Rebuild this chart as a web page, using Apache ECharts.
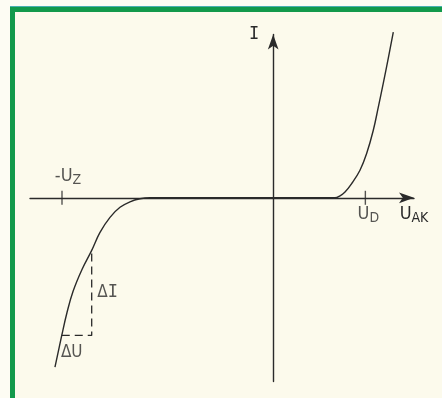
<!DOCTYPE html>
<html>
<head>
<meta charset="utf-8">
<script src="https://cdn.jsdelivr.net/npm/echarts@6/dist/echarts.min.js"></script>
<style>
  html, body { margin: 0; padding: 0; }
  body { width: 442px; height: 398px; background: #fdfcf3; position: relative; overflow: hidden; }
  #frame {
    position: absolute; left: 10px; top: 7px; width: 440px; height: 387px;
    background: #fcfaec;
    border-left: 5px solid #12994b;
    border-top: 5px solid #12994b;
    border-bottom: 3px solid #45a89a;
    box-shadow: 0 -1px 0 #4ab0b0;
  }
  #chart { position: absolute; left: 0; top: 0; width: 442px; height: 398px; }
</style>
</head>
<body>
<div id="frame"></div>
<div id="chart"></div>
<script>
// Diode characteristic I(U_AK): forward knee at U_D, breakdown at -U_Z
const forwardU = [0.4828, 0.5219, 0.561, 0.613, 0.678, 0.730, 0.782, 0.8211, 0.8602, 0.8992, 0.9383];
const forwardI = [0, 0.196, 0.57, 1.39, 2.70, 4.34, 6.62, 8.88, 11.24, 13.69, 16.24];

const reverseU = [-1.705, -1.652, -1.6109, -1.5641, -1.4938, -1.418, -1.3531, -1.275, -1.1969, -1.1188, -1.0406, -0.9625];
const reverseI = [-16.6, -13.49, -11.24, -9.18, -7.02, -5.15, -3.386, -1.914, -0.933, -0.392, -0.098, 0];

// Marked voltages on the U axis
const tickNames = ['-U_Z', 'U_D'];
const tickU = [-1.65, 0.72];

// Slope triangle on the breakdown branch
const deltaU = [-1.652, -1.418];
const deltaI = [-13.49, -5.15];

const ink = '#2a2a2a';
const font = '"DejaVu Sans Condensed", "Liberation Sans Narrow", "DejaVu Sans", sans-serif';
const mono = '"DejaVu Sans Mono", monospace';

const curve = [];
reverseU.forEach((u, i) => curve.push([u, reverseI[i]]));
forwardU.forEach((u, i) => curve.push([u, forwardI[i]]));

const triangle = [
  [deltaU[0], deltaI[0]],
  [deltaU[1], deltaI[0]],
  [deltaU[1], deltaI[1]]
];

const rich = {
  m: { fontSize: 18, fontFamily: font, color: ink, verticalAlign: 'top', lineHeight: 20 },
  s: { fontSize: 14, fontFamily: font, color: ink, verticalAlign: 'bottom', lineHeight: 20 },
  d: { fontSize: 17, fontFamily: font, color: ink },
  i: { fontSize: 17, fontFamily: mono, color: ink }
};

function sub(name) {
  const parts = name.split('_');
  return '{m|' + parts[0] + '}{s|' + parts[1] + '}';
}

const chart = echarts.init(document.getElementById('chart'), null, { renderer: 'canvas' });
chart.setOption({
  backgroundColor: 'transparent',
  animation: false,
  grid: { left: 30, right: 28, top: 34.5, bottom: 16.5 },
  xAxis: {
    type: 'value', min: -1.9, max: 1.1,
    axisLine: { onZero: true, symbol: ['none', 'arrow'], symbolSize: [8, 15], lineStyle: { color: ink, width: 1.4 } },
    axisTick: { show: false }, axisLabel: { show: false }, splitLine: { show: false },
    name: sub('U_AK'), nameLocation: 'end', nameGap: 0,
    nameTextStyle: { align: 'center', verticalAlign: 'top', padding: [8, 0, 0, 0], rich: rich }
  },
  yAxis: {
    type: 'value', min: -18, max: 16,
    axisLine: { onZero: true, symbol: ['none', 'arrow'], symbolSize: [8, 15], lineStyle: { color: ink, width: 1.4 } },
    axisTick: { show: false }, axisLabel: { show: false }, splitLine: { show: false },
    name: 'I', nameLocation: 'end', nameGap: 0,
    nameTextStyle: { align: 'right', verticalAlign: 'middle', padding: [0, 14, 7, 0],
      fontSize: 17, fontFamily: mono, color: ink }
  },
  series: [
    {
      type: 'line', data: curve, smooth: 0.4, clip: false,
      showSymbol: false, lineStyle: { color: ink, width: 1.4 }, z: 3
    },
    {
      type: 'line', data: triangle, clip: false, showSymbol: false,
      lineStyle: { color: ink, width: 1.3, type: [8, 5] }
    },
    {
      type: 'scatter', clip: false, symbol: 'rect', symbolSize: [1.4, 14],
      itemStyle: { color: ink },
      data: tickU.map((u, i) => ({
        value: [u, 0],
        label: i === 0
          ? { show: true, position: 'top', distance: 3, offset: [6, 0], formatter: sub(tickNames[i]), rich: rich }
          : { show: true, position: 'bottom', distance: 1, offset: [3, 0], formatter: sub(tickNames[i]), rich: rich }
      }))
    },
    {
      type: 'scatter', clip: false, symbol: 'circle', symbolSize: 1,
      itemStyle: { color: 'rgba(0,0,0,0)' },
      data: [
        { value: [deltaU[1], (deltaI[0] + deltaI[1]) / 2],
          label: { show: true, position: 'right', distance: 5, formatter: '{d|Δ}{i|I}', rich: rich } },
        { value: [(deltaU[0] + deltaU[1]) / 2, deltaI[0]],
          label: { show: true, position: 'bottom', distance: 8, offset: [-5, 0], formatter: '{d|ΔU}', rich: rich } }
      ]
    }
  ]
});
</script>
</body>
</html>
